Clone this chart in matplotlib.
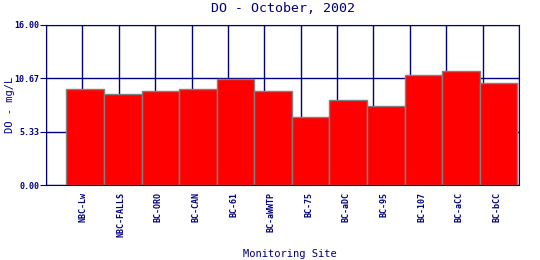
import numpy as np
import matplotlib
matplotlib.use("Agg")
import matplotlib.pyplot as plt

# DO readings by monitoring site, October 2002
sites = ["NBC-Lw", "NBC-FALLS", "BC-ORO", "BC-CAN", "BC-61", "BC-aWWTP",
         "BC-75", "BC-aDC", "BC-95", "BC-107", "BC-aCC", "BC-bCC"]
do_vals = [9.57, 9.07, 9.37, 9.64, 10.57, 9.37, 6.84, 8.47, 7.88, 10.97, 11.37, 10.17]
yticks = [0.0, 5.33, 10.67, 16.0]

navy = "#000080"
font = "DejaVu Sans Mono"

fig = plt.figure(figsize=(5.4, 2.6), dpi=100)
ax = fig.add_axes([0.0852, 0.2873, 0.8759, 0.6173])

x = np.arange(len(sites))
xmin, xmax = -1.04, 11.54
ax.set_xlim(xmin, xmax)
ax.set_ylim(0, 16)

# grid: 13 evenly spaced columns, rows at the y ticks
for gx in np.linspace(xmin, xmax, 14):
    ax.axvline(gx, color=navy, lw=1, zorder=1)
for gy in yticks:
    ax.axhline(gy, color=navy, lw=1, zorder=1)

ax.bar(x, do_vals, width=1.0, color="red", edgecolor="gray", linewidth=1, zorder=2)

ax.set_yticks(yticks)
ax.set_yticklabels(["%.2f" % v for v in yticks], fontsize=6, color=navy,
                   family=font, fontweight="bold")
ax.set_xticks(x - 0.05)
ax.set_xticklabels(sites, rotation=90, fontsize=6, color=navy, family=font,
                   fontweight="bold")
ax.tick_params(axis="y", length=4, color=navy, pad=1)
ax.tick_params(axis="x", length=0, pad=5)

for s in ax.spines.values():
    s.set_color(navy)

ax.set_title("DO - October, 2002", fontsize=9.5, color=navy, family=font, pad=9)
ax.set_ylabel("DO - mg/L", fontsize=7.5, color=navy, family=font, va="center")
ax.yaxis.set_label_coords(-0.076, 0.5)
ax.set_xlabel("Monitoring Site", fontsize=7.5, color=navy, family=font, va="center")
ax.xaxis.set_label_coords(0.516, -0.428)

fig.savefig("out.png", dpi=100)
